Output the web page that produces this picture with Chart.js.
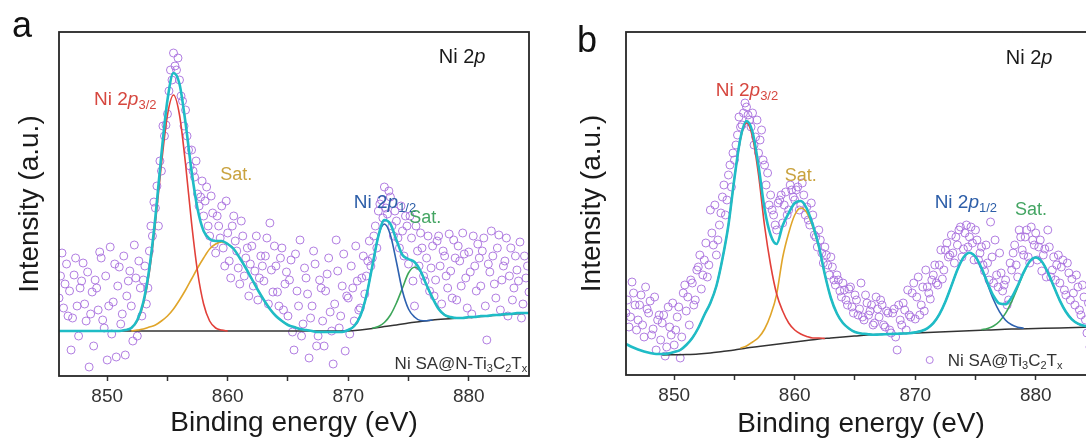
<!DOCTYPE html>
<html>
<head>
<meta charset="utf-8">
<script src="https://cdn.jsdelivr.net/npm/chart.js"></script>
<style>
  html, body { margin: 0; padding: 0; background: #fff; overflow: hidden; width: 1086px; height: 441px; }
  canvas { position: absolute; top: 0; }
</style>
</head>
<body>
<canvas id="chartA" width="545" height="441" style="left:0;width:545px;height:441px"></canvas>
<canvas id="chartB" width="567" height="441" style="left:545px;width:567px;height:441px"></canvas>
<script>
// ---- data (binding energy in eV, intensity in a.u.) ----
const tickVals = [850, 855, 860, 865, 870, 875, 880];
const FIT_STEP = 0.5;
const RAW_STEP = 0.25;
const RAW_START = 846;      // first raw sweep
const RAW2_START = 846.125; // interleaved points

// panel a : Ni SA@N-Ti3C2Tx
const a_raw = [
  78,123,92,60, 26,101,70,88, 113,55,9,84, 96,66,118,48, 16,129,74,19,
  109,62,21,95, 70,131,40,88, 96,72,125,140, 168,150,205,240, 262,306,323,306,
  296,275,266,226, 226,199,182,179, 160,189,140,163, 123,150,170,110, 143,98,160,125,
  92,140,118,80, 130,105,76,120, 95,138,153,84, 110,70,128,92, 60,116,26,85,
  136,52,98,18, 70,112,40,88, 30,102,64,12, 136,48,90,25, 78,110,55,95,
  68,120,100,135, 118,150,165,176, 189,162,179,140, 155,128,145,160, 112,138,70,125,
  143,100,118,85, 130,96,140,72, 120,88,105,136, 76,115,143,98, 124,62,110,132,
  90,138,36,104, 120,78,141,96, 115,60,128,88, 106,134,72,98, 84
];
const a_raw2 = [
  100,68,112,85, 58,118,40,95, 72,104,62,30, 88,124,56,100, 70,42,112,90,
  52,120,80,105, 35,98,115,60, 110,88,150,174, 190,215,250,251, 285,296,310,318,
  280,250,240,210, 205,215,170,195, 175,150,180,132, 160,138,128,175, 115,150,135,108,
  155,100,128,112, 90,140,98,110, 120,72,106,130, 84,118,66,104, 96,44,122,70,
  40,108,82,58, 125,30,96,55, 85,118,45,72, 105,60,122,80, 42,88,130,66,
  98,82,115,110, 140,128,172,158, 168,185,150,165, 138,170,120,150, 160,95,150,110,
  128,95,140,108, 80,135,110,125, 100,142,78,118, 130,90,122,68, 104,140,85,118,
  125,70,112,145, 92,128,66,110, 138,100,76,120, 95,58,120,110
];
const a_envStart = 846;
const a_env = [
  45,45,45,45,45,45,45,45,45,45,45, 46,48,56,74,108,159,222,276,303,292,253,205,167,145,
  137,135,135,132,127,118,108,97,86,76,67,60,55,51,49,47,46,45,44,44,44,44,44,
  46,50,60,80,110,140,156,152,136,121,117,114,105,91,78,67,61,59,58,58,59,59,60,60,61,61,62,62,63,63,63
];
const a_bgE = [846, 870, 871, 872, 873, 874, 875, 876, 877, 878, 880, 882, 885];
const a_bg  = [45, 45, 46, 47.5, 49.5, 51, 53, 54.5, 56, 57, 58.5, 60.5, 63];
const a_p32Start = 851;
const a_p32 = [45,46,48,55,72,104,153,212,261,281,261,212,153,104,72,55,48,46,45];
const a_sat1Start = 852;
const a_sat1 = [45,46,47,49,51,55,60,67,76,86,97,108,118,127,132,134,132,127,118,108,97,86,76,67,60,55,51,49,47,46,45];
const a_p12Start = 869.5;
const a_p12 = [45,46,50,60,80,110,140,152,141,114,85,67,59,55.5,55.2,56];
const a_sat2Start = 872;
const a_sat2 = [47.8,49.5,53.5,61,73,88,103,108.7,104.5,91,78,67.5,61,58.4,58];

// panel b : Ni SA@Ti3C2Tx
const b_raw = [
  62,48,93,70, 55,80,38,66, 74,46,25,60, 52,19,68,40, 30,58,17,82,
  64,50,92,75, 108,86,115,98, 165,130,120,150, 178,160,200,188, 215,240,248,262,
  268,255,262,238, 222,245,210,202, 180,160,145,175, 152,183,165,185, 175,188,170,180,
  168,150,160,138, 145,122,128,110, 118,95,100,84, 92,75,86,68, 80,60,92,55,
  72,64,50,78, 58,70,48,62, 42,66,25,55, 72,45,60,82, 56,98,70,64,
  88,76,100,92, 110,96,125,118, 140,112,130,148, 126,150,138,132, 145,115,128,104,
  112,153,92,100, 122,84,95,75, 105,130,98,138, 120,145,112,135, 142,128,104,126,
  145,98,118,110, 92,115,80,102, 96,70,88,60, 78,42,28,65, 50
];
const b_raw2 = [
  75,58,82,45, 70,50,88,62, 40,78,55,35, 60,28,48,72, 45,68,38,90,
  78,95,70,105, 120,100,132,110, 142,170,135,162, 190,175,210,222, 230,258,250,272,
  260,248,230,255, 235,215,190,170, 165,150,172,180, 170,160,190,178, 185,165,192,160,
  155,172,140,128, 135,112,120,100, 108,90,95,78, 85,70,88,62, 75,66,58,80,
  60,70,52,66, 75,50,64,45, 62,38,70,50, 65,85,58,92, 78,60,88,105,
  82,95,110,90, 125,105,132,120, 122,138,145,118, 142,128,148,115, 135,122,110,130,
  95,118,135,88, 102,90,70,112, 122,110,145,125, 138,118,148,130, 115,135,120,98,
  128,105,95,120, 108,85,112,75, 82,100,65,90, 55,72,35,58
];
const b_envStart = 846;
const b_env = [
  31,28,25.5,23.5,22,21,21,21.5,23,25,30,37,47,60,72,89,116,150,197,237,254,243,209,166,140,
  131,149.5,162,172,174,166.5,150,129,100.5,77,61.5,52,46.5,43,41.5,41,40.2,40.5,40.7,41,41.2,41.5,41.7,
  42.6,44,46.7,51.8,60.6,73.3,89.1,105.3,117.5,122.3,118.2,107,92.2,79,71.4,70.8,77.6,89.3,102.8,113.5,
  117.5,113.5,102.7,88.4,74.4,63.2,55.6,51.3,49.2,48.4,48.2
];
const b_bgE = [849, 851, 852, 853, 854, 855, 856, 857, 858, 859, 860, 861, 862, 863, 864, 865, 866, 868, 870, 872, 874, 876, 878, 880, 882, 885];
const b_bg  = [20, 20.5, 21, 22, 23.5, 25, 27, 28.5, 30, 31.5, 33, 34.5, 36, 37, 38, 39, 40, 41, 42, 43, 44, 45, 46, 46.5, 47, 48];
const b_p32Start = 849.5;
const b_p32 = [21.5,23,25,30,37,47,60,72,89,116,150,197,236,252,238,200,149,110,81,64,52,45,41,38.5,37,37,36.5];
const b_sat1Start = 855.5;
const b_sat1 = [27,29,33,37.5,46,60,80.7,117.5,142,160,167,162.5,148,128,100.5,77,61.5,52,46.5,43,41.5,41,40.2];
const b_p12Start = 870;
const b_p12 = [43,44,46.7,51.8,60.6,73.3,89.1,105.3,117.5,122.3,118,106.3,90.6,75.3,63.1,54.8,50.2,47.8,46.8];
const b_sat2Start = 875.5;
const b_sat2 = [45.4,46.6,49,53.8,61.8,73.4,87.6,102.2,113.3,117.5,113.5,102.7,88.4,74.4,63.2,55.6,51.3,49.2,48.4,48.2];

// ---- styling ----
const FONT = '"Liberation Sans", Arial, Helvetica, sans-serif';
const C_RAW = 'rgba(168,112,222,0.9)';
const C_ENV = '#1fbcc6';
const C_BG = '#333333';
const C_RED = '#e2403a';
const C_GOLD = '#e0a52a';
const C_BLUE = '#2e62b0';
const C_GREEN = '#3da65a';

function grid(e0, step, vals) {
  return vals.map((v, i) => ({ x: +(e0 + i * step).toFixed(3), y: v }));
}
function pairs(es, vs) {
  return es.map((e, i) => ({ x: e, y: vs[i] }));
}
function curve(data, color, width, order) {
  return {
    data, showLine: true, pointRadius: 0, borderColor: color, borderWidth: width,
    cubicInterpolationMode: 'monotone', fill: false, order
  };
}
function rawSet(data) {
  return {
    data, showLine: false, pointStyle: 'circle',
    pointRadius: 4, pointBorderWidth: 1, pointBorderColor: C_RAW,
    pointBackgroundColor: 'rgba(255,255,255,0)', order: 10
  };
}

// rich text: segs = [[text, 'n'|'i'|'s'], ...]
function drawRich(ctx, cx, cy, segs, size, color, align) {
  const fontFor = t => t === 'i' ? `italic ${size}px ${FONT}` :
    t === 's' ? `${Math.round(size * 0.66)}px ${FONT}` : `${size}px ${FONT}`;
  let w = 0;
  segs.forEach(([s, t]) => { ctx.font = fontFor(t); w += ctx.measureText(s).width; });
  let x = align === 'right' ? cx - w : align === 'left' ? cx : cx - w / 2;
  ctx.fillStyle = color;
  ctx.textBaseline = 'middle';
  ctx.textAlign = 'left';
  segs.forEach(([s, t]) => {
    ctx.font = fontFor(t);
    ctx.fillText(s, x, t === 's' ? cy + size * 0.28 : cy);
    x += ctx.measureText(s).width;
  });
}

const framePlugin = {
  id: 'frame',
  afterDatasetsDraw(chart) {
    const { ctx, chartArea: a } = chart;
    ctx.save();
    ctx.strokeStyle = '#262626';
    ctx.lineWidth = 1.8;
    ctx.strokeRect(a.left, a.top, a.right - a.left, a.bottom - a.top);
    ctx.restore();
  }
};

const notePlugin = {
  id: 'notes',
  afterDraw(chart, args, opts) {
    const { ctx } = chart;
    const xs = chart.scales.x, ys = chart.scales.y;
    ctx.save();
    (opts.items || []).forEach(n => {
      const px = xs.getPixelForValue(n.e), py = ys.getPixelForValue(n.v);
      if (n.marker) {
        ctx.beginPath();
        ctx.strokeStyle = C_RAW;
        ctx.lineWidth = 1;
        ctx.arc(px, py, 3.5, 0, Math.PI * 2);
        ctx.stroke();
        return;
      }
      drawRich(ctx, px, py, n.segs, n.size, n.color, n.align);
    });
    ctx.restore();
  }
};

const panelLetter = {
  id: 'letter',
  afterDraw(chart, args, opts) {
    const { ctx } = chart;
    ctx.save();
    ctx.fillStyle = '#111';
    ctx.font = `36px ${FONT}`;
    ctx.textBaseline = 'alphabetic';
    ctx.fillText(opts.text, opts.x, opts.y);
    ctx.restore();
  }
};

const labelsA = [
  { e: 851.5, v: 276, segs: [['Ni 2', 'n'], ['p', 'i'], ['3/2', 's']], size: 19, color: '#d6473f' },
  { e: 860.7, v: 201, segs: [['Sat.', 'n']], size: 18, color: '#c9a23e' },
  { e: 873.05, v: 173, segs: [['Ni 2', 'n'], ['p', 'i'], ['1/2', 's']], size: 19, color: '#2d5ea8' },
  { e: 876.4, v: 158, segs: [['Sat.', 'n']], size: 18, color: '#44a563' },
  { e: 879.45, v: 319, segs: [['Ni 2', 'n'], ['p', 'i']], size: 20, color: '#1a1a1a' },
  { e: 884.85, v: 12, align: 'right', size: 17, color: '#333',
    segs: [['Ni SA@N-Ti', 'n'], ['3', 's'], ['C', 'n'], ['2', 's'], ['T', 'n'], ['x', 's']] }
];
const labelsB = [
  { e: 856.04, v: 284, segs: [['Ni 2', 'n'], ['p', 'i'], ['3/2', 's']], size: 19, color: '#d6473f' },
  { e: 860.5, v: 199, segs: [['Sat.', 'n']], size: 18, color: '#c9a23e' },
  { e: 874.2, v: 172, segs: [['Ni 2', 'n'], ['p', 'i'], ['1/2', 's']], size: 19, color: '#2d5ea8' },
  { e: 879.6, v: 165, segs: [['Sat.', 'n']], size: 18, color: '#44a563' },
  { e: 879.45, v: 317, segs: [['Ni 2', 'n'], ['p', 'i']], size: 20, color: '#1a1a1a' },
  { e: 871.2, v: 15, marker: true },
  { e: 872.7, v: 14, align: 'left', size: 17, color: '#333',
    segs: [['Ni SA@Ti', 'n'], ['3', 's'], ['C', 'n'], ['2', 's'], ['T', 'n'], ['x', 's']] }
];

function makePanel(id, p) {
  const datasets = [
    curve(grid(p.envStart, FIT_STEP, p.env), C_ENV, 2.6, 0),
    curve(grid(p.p32Start, FIT_STEP, p.p32), C_RED, 1.6, 2),
    curve(grid(p.sat1Start, FIT_STEP, p.sat1), C_GOLD, 1.6, 2),
    curve(grid(p.p12Start, FIT_STEP, p.p12), C_BLUE, 1.6, 1),
    curve(grid(p.sat2Start, FIT_STEP, p.sat2), C_GREEN, 1.6, 2),
    curve(pairs(p.bgE, p.bg), C_BG, 1.5, 3),
    rawSet(grid(RAW_START, RAW_STEP, p.raw)),
    rawSet(grid(RAW2_START, RAW_STEP, p.raw2))
  ];
  return new Chart(document.getElementById(id), {
    type: 'scatter',
    data: { datasets },
    options: {
      responsive: false, animation: false, devicePixelRatio: 1,
      layout: { padding: { left: 0, top: 32, right: 16, bottom: 0 } },
      plugins: {
        legend: { display: false }, tooltip: { enabled: false },
        notes: { items: p.labels },
        letter: p.letter
      },
      scales: {
        x: {
          type: 'linear', min: 846, max: 885,
          afterBuildTicks: s => { s.ticks = tickVals.map(v => ({ value: v })); },
          afterFit: s => { s.height = p.xh; },
          grid: { drawOnChartArea: false, drawTicks: true, tickLength: 5, tickColor: '#333', tickWidth: 1.5 },
          border: { display: false },
          ticks: {
            autoSkip: false, maxRotation: 0, padding: 4, color: '#333',
            font: { family: FONT, size: 19 },
            callback: v => (v % 10 === 0 ? String(v) : '')
          },
          title: {
            display: true, text: 'Binding energy (eV)', color: '#1a1a1a',
            font: { family: FONT, size: 28 }, padding: { top: 0, bottom: p.xtp }
          }
        },
        y: {
          min: 0, max: p.ymax,
          afterFit: s => { s.width = p.yw; },
          grid: { display: false }, border: { display: false },
          ticks: { display: false },
          title: {
            display: true, text: 'Intensity (a.u.)', color: '#1a1a1a',
            font: { family: FONT, size: 28 }, padding: { top: p.ytp, bottom: 0 }
          }
        }
      }
    },
    plugins: [framePlugin, notePlugin, panelLetter]
  });
}

makePanel('chartA', {
  raw: a_raw, raw2: a_raw2, env: a_env, envStart: a_envStart, bgE: a_bgE, bg: a_bg,
  p32: a_p32, p32Start: a_p32Start, sat1: a_sat1, sat1Start: a_sat1Start,
  p12: a_p12, p12Start: a_p12Start, sat2: a_sat2, sat2Start: a_sat2Start,
  ymax: 344, yw: 59, xh: 65, ytp: 13, xtp: 1, labels: labelsA,
  letter: { text: 'a', x: 12, y: 37 }
});
makePanel('chartB', {
  raw: b_raw, raw2: b_raw2, env: b_env, envStart: b_envStart, bgE: b_bgE, bg: b_bg,
  p32: b_p32, p32Start: b_p32Start, sat1: b_sat1, sat1Start: b_sat1Start,
  p12: b_p12, p12Start: b_p12Start, sat2: b_sat2, sat2Start: b_sat2Start,
  ymax: 343, yw: 81, xh: 66, ytp: 30, xtp: 0, labels: labelsB,
  letter: { text: 'b', x: 32, y: 52 }
});
</script>
</body>
</html>
